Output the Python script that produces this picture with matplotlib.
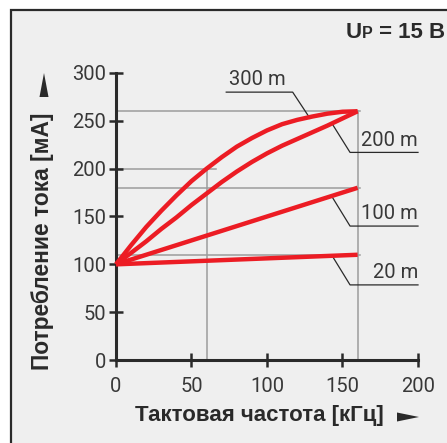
import matplotlib
matplotlib.use("Agg")
import matplotlib.pyplot as plt
from matplotlib.patches import Rectangle, Polygon
from matplotlib.transforms import Affine2D

W, H = 447, 443

# readings from the datasheet curves (clock frequency kHz -> supply current mA)
freq = [0, 10, 20, 30, 40, 50, 60, 70, 80, 90, 100, 110, 120, 130, 140, 150, 160]
cur_300m = [100, 120, 139, 156, 172, 187, 200, 212, 223, 232, 240, 246.5, 251, 254.5, 257.5, 259.5, 260]
cur_200m = [100, 112, 124, 137, 149, 162, 174, 186, 197, 207, 216, 224, 231, 238, 245, 252.5, 260]
freq_lin = [0, 160]
cur_100m = [100, 180]
cur_20m = [100, 110]

cable_labels = ["300 m", "200 m", "100 m", "20 m"]
x_ticks = [0, 50, 100, 150, 200]
y_ticks = [0, 50, 100, 150, 200, 250, 300]

RED = "#ec1c24"
GRID = "#9c9c9c"
INK = "#2a2a2a"
TXT = "#383838"
BG = "#efefef"
LIGHT = ["Roboto", "Liberation Sans"]

plt.rcParams["font.family"] = ["Liberation Sans", "DejaVu Sans"]

fig = plt.figure(figsize=(W / 100, H / 100), dpi=100)
fig.patch.set_facecolor("white")

# pixel -> figure fraction (origin top-left)
pix = Affine2D().scale(1 / W, -1 / H).translate(0, 1) + fig.transFigure

fig.patches.append(Rectangle((11, 10), 600, 600, transform=pix,
                             facecolor=BG, edgecolor=INK, lw=1.6, zorder=-5))

ax = fig.add_axes([116 / W, 1 - 360 / H, 302 / W, 287 / H])
ax.set_facecolor("none")
ax.set_zorder(1)
ax.set_xlim(0, 200)
ax.set_ylim(0, 300)

for s in ["top", "right"]:
    ax.spines[s].set_visible(False)
for s in ["left", "bottom"]:
    ax.spines[s].set_linewidth(2.2)
    ax.spines[s].set_color(INK)
    ax.spines[s].set_zorder(2)

ax.set_xticks(x_ticks)
ax.set_yticks(y_ticks)
ax.tick_params(direction="inout", length=10, width=1.8, color=INK,
               labelsize=14.5, labelcolor=TXT)
ax.tick_params(axis="x", pad=7)
ax.tick_params(axis="y", pad=2)
for lab in ax.get_xticklabels() + ax.get_yticklabels():
    lab.set_fontfamily(LIGHT)

# reference lines to the curve end points
f_end = freq[-1]
f_mid = freq[6]
for yv in [cur_300m[-1], cur_100m[-1], cur_20m[-1]]:
    ax.plot([0, f_end + 1.5], [yv, yv], color=GRID, lw=1.1, zorder=1, clip_on=False)
ax.plot([0, f_mid + 6], [cur_300m[6], cur_300m[6]], color=GRID, lw=1.1, zorder=1)
ax.plot([f_end, f_end], [0, cur_300m[-1]], color=GRID, lw=1.1, zorder=1)
ax.plot([f_mid, f_mid], [0, cur_300m[6]], color=GRID, lw=1.1, zorder=1)

# curves
for xs, ys in [(freq, cur_300m), (freq, cur_200m), (freq_lin, cur_100m), (freq_lin, cur_20m)]:
    ax.plot(xs, ys, color=RED, lw=3.2, solid_capstyle="butt", solid_joinstyle="round",
            zorder=4, clip_on=False)

# leader lines and cable length labels
ax.plot([73, 117, 128.5], [280, 280, 252.5], color=INK, lw=0.9, zorder=3)
ax.text(75, 283, cable_labels[0], fontsize=14.5, color=TXT,
        fontfamily=LIGHT, va="bottom")
for y0, y1, lab in [(245.5, 217, cable_labels[1]), (169, 140, cable_labels[2]),
                    (107.5, 78.5, cable_labels[3])]:
    ax.plot([143.7, 155, 200], [y0, y1, y1], color=INK, lw=0.9, zorder=3, clip_on=False)
    ax.text(200, y1 + 3, lab, fontsize=14.5, color=TXT, ha="right", va="bottom",
            fontfamily=LIGHT)

# axis titles
fig.text(259 / W, 1 - 416 / H, "Тактовая частота [кГц]", ha="center", va="center",
         fontsize=16, fontweight="bold", color=INK)
fig.text(43 / W, 1 - 241 / H, "Потребление тока [мА]", ha="center", va="center",
         rotation=90, fontsize=16.4, fontweight="bold", color=INK)

# arrow heads after the axis titles
fig.patches.append(Polygon([(397, 412.5), (419, 417), (397, 421.5)], closed=True,
                           transform=pix, facecolor=INK, edgecolor="none", zorder=3))
fig.patches.append(Polygon([(39.5, 97), (44, 73), (48.5, 97)], closed=True,
                           transform=pix, facecolor=INK, edgecolor="none", zorder=3))

# supply voltage header: U with subscript P
fig.canvas.draw()
r = fig.canvas.get_renderer()
t3 = fig.text(445 / W, 1 - 38 / H, " = 15 B", ha="right", va="baseline",
              fontsize=16, fontweight="bold", color=INK)
x3 = t3.get_window_extent(r).x0
t2 = fig.text(x3 / W, 1 - 38 / H, "P", ha="right", va="baseline",
              fontsize=11.5, fontweight="bold", color=INK)
x2 = t2.get_window_extent(r).x0
fig.text(x2 / W, 1 - 38 / H, "U", ha="right", va="baseline",
         fontsize=16, fontweight="bold", color=INK)

fig.savefig("out.png", dpi=100, facecolor=fig.get_facecolor())
